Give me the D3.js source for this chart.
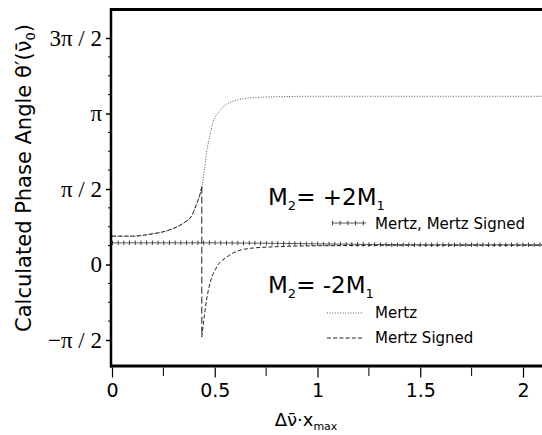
<!DOCTYPE html>
<html>
<head>
<meta charset="utf-8">
<script src="https://cdn.jsdelivr.net/npm/d3@7"></script>
<style>
  body { margin: 0; background: #fff; }
  svg { display: block; }
</style>
</head>
<body>
<script>
// x ticks
const xTicks = [0, 0.5, 1, 1.5, 2];
const xTickLabels = ['0', '0.5', '1', '1.5', '2'];
const xMinorTicks = [0.25, 0.75, 1.25, 1.75];

// y ticks (radians)
const yTicks = [-Math.PI / 2, 0, Math.PI / 2, Math.PI, 3 * Math.PI / 2];
const yTickLabels = ['\u2212\u03c0 / 2', '0', '\u03c0 / 2', '\u03c0', '3\u03c0 / 2'];
const yMinorTicks = [-3, -2, -1, 1, 2, 3, 5, 6, 7, 9, 10, 11].map((k) => (k * Math.PI) / 8);

// M2 = +2M1 (Mertz and Mertz Signed coincide)
const plusX = [0, 0.5, 1.0, 1.5, 2.1];
const plusTheta = [0.45, 0.45, 0.43, 0.41, 0.41];

// M2 = -2M1, Mertz
const mertzX = [0, 0.1, 0.185, 0.28, 0.347, 0.39, 0.41, 0.43, 0.437, 0.45, 0.46, 0.477, 0.49, 0.52, 0.56, 0.66, 0.8, 1.0, 1.5, 2.1];
const mertzTheta = [0.59, 0.59, 0.63, 0.72, 0.86, 1.03, 1.24, 1.49, 1.62, 1.97, 2.32, 2.69, 2.94, 3.17, 3.34, 3.46, 3.49, 3.5, 3.5, 3.5];

// M2 = -2M1, Mertz Signed (jumps by -pi at x ~ 0.437)
const signedX = [0, 0.1, 0.185, 0.28, 0.347, 0.39, 0.41, 0.43, 0.437, 0.437, 0.445, 0.46, 0.477, 0.51, 0.56, 0.66, 0.8, 1.0, 1.5, 2.1];
const signedTheta = [0.59, 0.59, 0.63, 0.72, 0.86, 1.03, 1.24, 1.49, 1.62, -1.51, -1.22, -0.74, -0.39, -0.05, 0.16, 0.33, 0.37, 0.39, 0.4, 0.4];

// canvas
const width = 542;
const height = 435;
const frame = { left: 111, right: 542, top: 9.5, bottom: 366 };
const sansFont = 'DejaVu Sans';
const serifFont = 'Liberation Serif';

const svg = d3.select('body').append('svg').attr('width', width).attr('height', height);

const x = d3.scaleLinear().domain([0, 2]).range([112, 523]);
const y = d3.scaleLinear().domain([-Math.PI / 2, 3 * Math.PI / 2]).range([340, 38]);

const zip = (xs, ys) => xs.map((v, i) => [v, ys[i]]);

// clip to the frame
svg.append('clipPath').attr('id', 'plot')
  .append('rect')
  .attr('x', frame.left).attr('y', frame.top)
  .attr('width', frame.right - frame.left).attr('height', frame.bottom - frame.top);

const plot = svg.append('g').attr('clip-path', 'url(#plot)');

const line = d3.line()
  .x((d) => x(d[0]))
  .y((d) => y(d[1]))
  .curve(d3.curveMonotoneX);

// split where x stops increasing (the jump)
const splitRuns = (pts) => {
  const runs = [[pts[0]]];
  for (let i = 1; i < pts.length; i++) {
    if (pts[i][0] <= pts[i - 1][0]) runs.push([]);
    runs[runs.length - 1].push(pts[i]);
  }
  return runs;
};

// M2 = +2M1 : line with "+" marks
const plusPts = zip(plusX, plusTheta);
plot.append('path').datum(plusPts)
  .attr('d', line).attr('fill', 'none')
  .attr('stroke', '#333').attr('stroke-width', 0.8);
plot.append('path').datum(plusPts)
  .attr('d', line).attr('fill', 'none')
  .attr('stroke', '#333').attr('stroke-width', 4.5)
  .attr('stroke-dasharray', '0.9 4.8');

// Mertz (dotted)
plot.append('path').datum(zip(mertzX, mertzTheta))
  .attr('d', line).attr('fill', 'none')
  .attr('stroke', '#555').attr('stroke-width', 1)
  .attr('stroke-dasharray', '1 1.6');

// Mertz Signed (dashed)
const runs = splitRuns(zip(signedX, signedTheta));
runs.forEach((run, i) => {
  plot.append('path').datum(run)
    .attr('d', line).attr('fill', 'none')
    .attr('stroke', '#222').attr('stroke-width', 1)
    .attr('stroke-dasharray', '4 2.2');
  if (i > 0) {
    const a = runs[i - 1][runs[i - 1].length - 1];
    const b = run[0];
    plot.append('line')
      .attr('x1', x(a[0])).attr('y1', y(a[1]))
      .attr('x2', x(b[0])).attr('y2', y(b[1]))
      .attr('stroke', '#222').attr('stroke-width', 1)
      .attr('stroke-dasharray', '7 3');
  }
});

// frame lines
svg.append('line')
  .attr('x1', frame.left - 1).attr('x2', frame.right)
  .attr('y1', frame.top).attr('y2', frame.top)
  .attr('stroke', '#000').attr('stroke-width', 3);
svg.append('line')
  .attr('x1', frame.left - 1).attr('x2', frame.right)
  .attr('y1', frame.bottom).attr('y2', frame.bottom)
  .attr('stroke', '#000').attr('stroke-width', 3);

// y axis
const yAxis = (g) => g
  .attr('transform', `translate(${frame.left}, 0)`)
  .call(d3.axisLeft(y).tickValues(yTicks)
    .tickFormat((d, i) => yTickLabels[i]).tickSize(5).tickPadding(4))
  .call((g) => g.select('.domain').remove())
  .call((g) => g.selectAll('.tick line').attr('stroke', '#000').attr('stroke-width', 1.5))
  .call((g) => g.selectAll('.tick text')
    .attr('font-family', serifFont).attr('font-size', 23).attr('fill', '#000'));
svg.append('g').call(yAxis);

svg.append('g')
  .selectAll('line')
  .data(yMinorTicks)
  .enter()
  .append('line')
  .attr('x1', frame.left - 3).attr('x2', frame.left)
  .attr('y1', (d) => y(d)).attr('y2', (d) => y(d))
  .attr('stroke', '#000').attr('stroke-width', 1);

svg.append('line')
  .attr('x1', frame.left).attr('x2', frame.left)
  .attr('y1', frame.top - 1.5).attr('y2', frame.bottom + 1.5)
  .attr('stroke', '#000').attr('stroke-width', 2.5);

// x axis
const xAxis = (g) => g
  .attr('transform', `translate(0, ${frame.bottom + 1.5})`)
  .call(d3.axisBottom(x).tickValues(xTicks)
    .tickFormat((d, i) => xTickLabels[i]).tickSize(10).tickPadding(6))
  .call((g) => g.select('.domain').remove())
  .call((g) => g.selectAll('.tick line').attr('stroke', '#000').attr('stroke-width', 1.2))
  .call((g) => g.selectAll('.tick text')
    .attr('font-family', sansFont).attr('font-size', 19).attr('fill', '#000'));
svg.append('g').call(xAxis);

svg.append('g')
  .selectAll('line')
  .data(xMinorTicks)
  .enter()
  .append('line')
  .attr('x1', (d) => x(d)).attr('x2', (d) => x(d))
  .attr('y1', frame.bottom + 1.5).attr('y2', frame.bottom + 10)
  .attr('stroke', '#000').attr('stroke-width', 1);

// axis titles
const xTitle = svg.append('text')
  .attr('x', 306).attr('y', 426)
  .attr('text-anchor', 'middle')
  .attr('font-family', sansFont).attr('font-size', 18).attr('fill', '#000');
xTitle.append('tspan').text('\u0394\u03bd\u0304\u00b7x');
xTitle.append('tspan').attr('font-size', 11).attr('dy', 4).text('max');

const yTitle = svg.append('text')
  .attr('transform', 'translate(31, 178) rotate(-90)')
  .attr('text-anchor', 'middle')
  .attr('font-family', sansFont).attr('font-size', 21).attr('fill', '#000');
yTitle.append('tspan').text('Calculated Phase Angle \u03b8\u2032(\u03bd\u0304');
yTitle.append('tspan').attr('font-size', 13).attr('dy', 4).text('0');
yTitle.append('tspan').attr('dy', -4).text(')');

// legend: big labels
const bigLabel = (yPos, sign) => {
  const t = svg.append('text')
    .attr('x', 268).attr('y', yPos)
    .attr('font-family', sansFont).attr('font-size', 23).attr('fill', '#000');
  t.append('tspan').text('M');
  t.append('tspan').attr('font-size', 13).attr('dy', 5).text('2');
  t.append('tspan').attr('dy', -5).text('= ' + sign + '2M');
  t.append('tspan').attr('font-size', 13).attr('dy', 5).text('1');
};
bigLabel(205, '+');
bigLabel(293, '-');

// legend entries
const legendText = (yPos, label) => svg.append('text')
  .attr('x', 375).attr('y', yPos)
  .attr('font-family', sansFont).attr('font-size', 15).attr('fill', '#000')
  .text(label);

const plusSample = [[332, 223], [366, 223]];
const sampleLine = d3.line();
svg.append('path').attr('d', sampleLine(plusSample))
  .attr('stroke', '#333').attr('stroke-width', 0.8);
svg.append('path').attr('d', sampleLine(plusSample))
  .attr('stroke', '#333').attr('stroke-width', 4.5).attr('stroke-dasharray', '0.9 6.8');
legendText(229, 'Mertz, Mertz Signed');

svg.append('path').attr('d', sampleLine([[327, 313], [362, 313]]))
  .attr('stroke', '#555').attr('stroke-width', 1).attr('stroke-dasharray', '1 1.6');
legendText(318, 'Mertz');

svg.append('path').attr('d', sampleLine([[327, 338], [362, 338]]))
  .attr('stroke', '#222').attr('stroke-width', 1).attr('stroke-dasharray', '4 2.2');
legendText(343, 'Mertz Signed');
</script>
</body>
</html>
